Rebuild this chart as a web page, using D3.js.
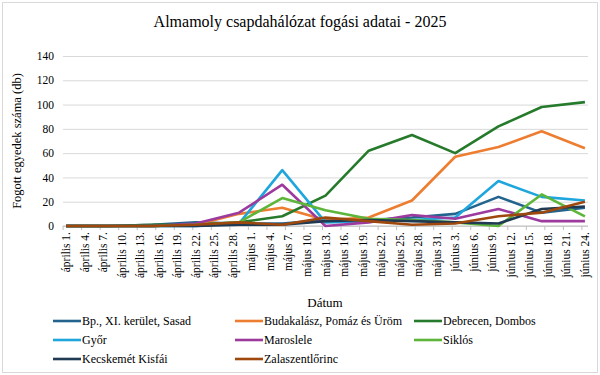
<!DOCTYPE html>
<html>
<head>
<meta charset="utf-8">
<script src="https://cdn.jsdelivr.net/npm/d3@7"></script>
<style>
	body { margin: 0; background: #fff; }
	svg text { font-family: "Liberation Serif", "Times New Roman", serif !important; fill: #000; }
</style>
</head>
<body>
<svg id="chart" width="600" height="375"></svg>
<script>
// weekly trap counts, April 1 - June 24
var sampleDates = ['2025-04-01', '2025-04-08', '2025-04-15', '2025-04-22', '2025-04-29', '2025-05-06',
	'2025-05-13', '2025-05-20', '2025-05-27', '2025-06-03', '2025-06-10', '2025-06-17', '2025-06-24'];

var seriesNames = ['Bp., XI. kerület, Sasad', 'Budakalász, Pomáz és Üröm', 'Debrecen, Dombos',
	'Győr', 'Maroslele', 'Siklós', 'Kecskemét Kisfái', 'Zalaszentlőrinc'];

var sasad      = [0, 0, 1, 3, 2, 2, 5, 5, 7, 10, 24, 11, 15];
var budakalasz = [0, 0, 0, 1, 10, 15, 5, 7, 21, 57, 65, 78, 64];
var debrecen   = [0, 0, 1, 1, 3, 8, 25, 62, 75, 60, 82, 98, 102];
var gyor       = [0, 0, 0, 0, 2, 46, 3, 4, 5, 7, 37, 24, 21];
var maroslele  = [0, 0, 0, 2, 11, 34, 0, 3, 9, 6, 14, 4, 4];
var siklos     = [0, 0, 0, 1, 3, 23, 13, 6, 5, 3, 0, 26, 8];
var kecskemet  = [0, 0, 0, 0, 1, 1, 4, 5, 4, 3, 2, 14, 16];
var zala       = [0, 0, 0, 1, 3, 1, 7, 4, 1, 2, 8, 11, 20];

var seriesValues = [sasad, budakalasz, debrecen, gyor, maroslele, siklos, kecskemet, zala];
var seriesColors = ['#23648f', '#ed7d31', '#267a2b', '#1ea6dd', '#9c3a9e', '#5db53a', '#1f3a52', '#9e480e'];

var yTicks = [0, 20, 40, 60, 80, 100, 120, 140];

var parse = d3.timeParse('%Y-%m-%d');
var monthNames = ['január', 'február', 'március', 'április', 'május', 'június'];

var startDate = parse('2025-04-01');
var endDate = parse('2025-06-24');

// axis labels every 3 days counted from April 1
var labelDates = d3.range(0, d3.timeDay.count(startDate, endDate) + 1, 3).map(function(n){
	return d3.timeDay.offset(startDate, n);
});

var svg = d3.select('#chart');
var DAY = 864e5;

var x = d3.scaleTime()
	.domain([new Date(startDate.getTime() - DAY / 2), new Date(endDate.getTime() + DAY / 2)])
	.range([63, 588]);

var y = d3.scaleLinear()
	.domain([0, 140])
	.range([226, 56]);

//outer chart border
svg.append('rect')
	.attr('x', 2.5).attr('y', 2.5)
	.attr('width', 595).attr('height', 370)
	.attr('fill', '#fff')
	.attr('stroke', '#d9d9d9');

svg.append('text')
	.attr('x', 300).attr('y', 27)
	.attr('text-anchor', 'middle')
	.style('font-size', '16px')
	.text('Almamoly csapdahálózat fogási adatai - 2025');

//gridlines + y labels
var yAxis = svg.append('g')
	.attr('transform', 'translate(63,0)')
	.call(d3.axisLeft(y).tickValues(yTicks).tickSize(-525).tickPadding(9));
yAxis.attr('font-family', null);
yAxis.select('.domain').remove();
yAxis.selectAll('.tick line').attr('stroke', '#d9d9d9');
yAxis.selectAll('.tick text').style('font-size', '11.5px');

svg.append('text')
	.attr('transform', 'translate(21,141) rotate(-90)')
	.attr('text-anchor', 'middle')
	.style('font-size', '12.5px')
	.text('Fogott egyedek száma (db)');

//x axis
var xAxis = svg.append('g')
	.attr('transform', 'translate(0,226)');

xAxis.append('line')
	.attr('x1', 63).attr('x2', 588)
	.attr('stroke', '#bfbfbf');

var xTick = xAxis.selectAll('g.xtick')
	.data(labelDates)
	.enter()
	.append('g')
	.classed('xtick', true);

xTick.append('line')
	.attr('x1', function(d){return x(d) - 3;})
	.attr('x2', function(d){return x(d) - 3;})
	.attr('y1', 0).attr('y2', 4)
	.attr('stroke', '#bfbfbf');

xTick.append('text')
	.attr('transform', function(d){return 'translate(' + (x(d) + 4) + ',6) rotate(-90)';})
	.attr('text-anchor', 'end')
	.style('font-size', '11.5px')
	.text(function(d){return monthNames[d.getMonth()] + ' ' + d.getDate() + '.';});

svg.append('text')
	.attr('x', 325).attr('y', 307)
	.attr('text-anchor', 'middle')
	.style('font-size', '13px')
	.text('Dátum');

//series lines
var line = d3.line()
	.x(function(d){return x(d.date);})
	.y(function(d){return y(d.value);});

var series = seriesNames.map(function(name, i){
	return {
		name: name,
		color: seriesColors[i],
		points: seriesValues[i].map(function(v, j){return {date: parse(sampleDates[j]), value: v};})
	};
});

svg.append('g')
	.selectAll('path')
	.data(series)
	.enter()
	.append('path')
	.attr('d', function(d){return line(d.points);})
	.attr('fill', 'none')
	.attr('stroke', function(d){return d.color;})
	.attr('stroke-width', 2.6)
	.attr('stroke-linejoin', 'round');

//legend, three columns
var legendCols = [53, 235, 414];
var legend = svg.append('g')
	.selectAll('g')
	.data(series)
	.enter()
	.append('g')
	.attr('transform', function(d, i){
		return 'translate(' + legendCols[i % 3] + ',' + (321 + Math.floor(i / 3) * 19) + ')';
	});

legend.append('line')
	.attr('x1', 0).attr('x2', 28)
	.attr('stroke', function(d){return d.color;})
	.attr('stroke-width', 2.6);

legend.append('text')
	.attr('x', 29).attr('y', 4)
	.style('font-size', '12px')
	.text(function(d){return d.name;});
</script>
</body>
</html>
